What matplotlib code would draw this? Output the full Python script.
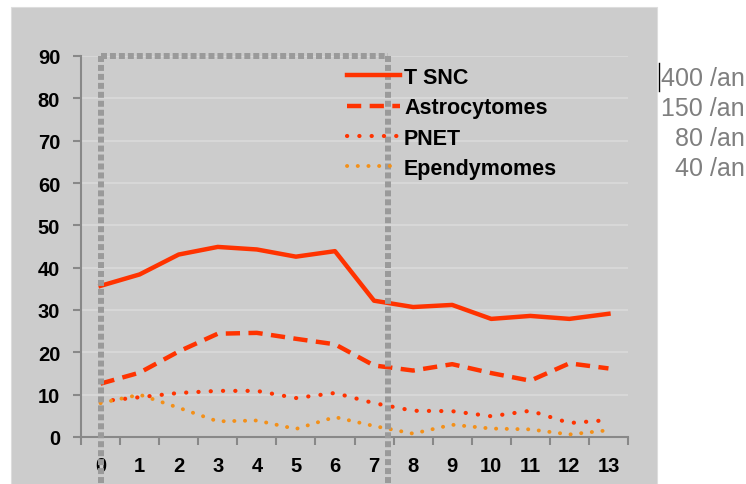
import matplotlib
matplotlib.use("Agg")
import matplotlib.pyplot as plt
from matplotlib.patches import Rectangle

categories = list(range(14))
tick_labels = [str(c) for c in categories]
t_snc = [35.7, 38.4, 43.1, 44.9, 44.3, 42.6, 43.9, 32.2, 30.7, 31.2, 27.9, 28.6, 27.9, 29.1]
astro = [12.6, 15.2, 20.2, 24.4, 24.6, 23.2, 21.9, 16.9, 15.7, 17.2, 15.1, 13.3, 17.4, 16.2]
pnet = [8.4, 9.4, 10.4, 10.9, 10.9, 9.2, 10.4, 8.0, 6.2, 6.1, 4.9, 6.2, 3.3, 4.0]
ependy = [8.0, 10.0, 6.9, 3.7, 3.9, 1.9, 4.7, 2.6, 0.8, 2.9, 2.0, 1.8, 0.6, 1.6]
series_names = ["T SNC", "Astrocytomes", "PNET", "Ependymomes"]
rates = ["400 /an", "150 /an", "80 /an", "40 /an"]

W, H = 746, 485
fig = plt.figure(figsize=(W / 100, H / 100), dpi=100)
fig.patch.set_facecolor("white")
fig.patches.append(Rectangle((11 / W, 0), (657 - 11) / W, (H - 8) / H,
                             transform=fig.transFigure, facecolor="#CCCCCC",
                             edgecolor="#DDDDDD", lw=0.8, zorder=-10))

ax = fig.add_axes([81 / W, (H - 438) / H, (628 - 81) / W, (438 - 57) / H])
ax.set_zorder(1)
ax.set_facecolor("none")
ax.set_xlim(-0.5, 13.5)
ax.set_ylim(0, 90)

red = "#FF3300"
orange = "#F39019"
ax.plot(categories, t_snc, color=red, lw=3.2, label=series_names[0], solid_joinstyle="round", zorder=3)
ax.plot(categories, astro, color=red, lw=3.2, dashes=[3.2, 1.9], label=series_names[1], zorder=3)
ax.plot(categories, pnet, color=red, lw=3, dashes=[0.05, 2.9], dash_capstyle="round",
        label=series_names[2], zorder=3)
ax.plot(categories, ependy, color=orange, lw=2.8, dashes=[0.05, 2.7], dash_capstyle="round",
        label=series_names[3], zorder=3)

# grid
ax.set_yticks(range(0, 91, 10))
ax.yaxis.grid(True, color="#DADADA", lw=1.2)
ax.set_axisbelow(True)

for s in ["top", "right"]:
    ax.spines[s].set_visible(False)
for s in ["left", "bottom"]:
    ax.spines[s].set_color("#888888")
    ax.spines[s].set_linewidth(1.5)

ax.set_xticks(categories)
ax.set_xticklabels(tick_labels)
ax.set_xticks([c - 0.5 for c in categories] + [13.5], minor=True)
ax.tick_params(axis="x", which="major", length=0, pad=14)
ax.tick_params(axis="x", which="minor", length=6, width=1.5, color="#888888", direction="out")
ax.tick_params(axis="y", length=6, width=1.5, color="#888888", pad=9)
for lab in ax.get_xticklabels() + ax.get_yticklabels():
    lab.set_fontfamily("Liberation Sans")
    lab.set_fontweight("bold")
    lab.set_fontsize(14.5)

leg = ax.legend(loc="upper left", bbox_to_anchor=(347 / W, (H - 68) / H),
                bbox_transform=fig.transFigure, frameon=False, handlelength=2.45,
                handletextpad=0.2, labelspacing=0.43, borderpad=0, borderaxespad=0,
                prop={"family": "Liberation Sans", "weight": "bold", "size": 15.5})

# dotted rectangle
gcol = "#9A9A9A"
kw = dict(color=gcol, lw=4.3, dashes=[1.0, 0.5], solid_capstyle="butt", dash_capstyle="butt",
          clip_on=False, zorder=5)
ax.plot([0, 0], [90, -11.5], **kw)
ax.plot([7.37, 7.37], [90, -11.5], **kw)
ax.plot([0, 7.37], [90, 90], **kw)

for i, r in enumerate(rates):
    fig.text(745 / W, (H - (79 + i * 30)) / H, r, ha="right", va="center", color="#7F7F7F",
             fontsize=18, fontfamily="Liberation Sans")
fig.add_artist(plt.Line2D([659 / W, 659 / W], [(H - 64) / H, (H - 92) / H], color="black", lw=1))

fig.savefig("out.png", dpi=100)
